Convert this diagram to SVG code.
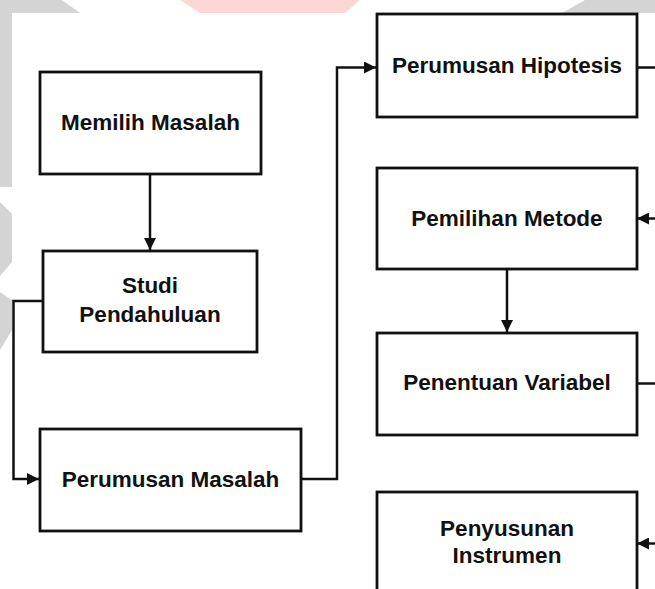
<svg xmlns="http://www.w3.org/2000/svg" width="655" height="589" viewBox="0 0 655 589">
  <defs>
    <style>
      .box { fill: #ffffff; stroke: #111111; stroke-width: 2.8; }
      .lbl { font-family: "Liberation Sans", Arial, sans-serif; font-weight: bold; font-size: 22.5px; fill: #111111; text-anchor: middle; }
      .conn { fill: none; stroke: #111111; stroke-width: 2.5; }
      .wm { fill: #d4d4d4; }
      .wmr { fill: #fdd6d6; }
    </style>
    <marker id="arr" markerUnits="userSpaceOnUse" markerWidth="13" markerHeight="12" refX="12" refY="6" orient="auto">
      <path d="M0,0 L12,6 L0,12 Z" fill="#111111"/>
    </marker>
  </defs>

  <g id="background">
    <rect x="0" y="0" width="655" height="589" fill="#ffffff"/>
    <polygon class="wm" points="0,0 62,0 80,13 12,13 12,187 0,187"/>
    <polygon class="wmr" points="180,0 360,0 345,13 200,13"/>
    <polygon class="wm" points="585,0 655,0 655,13 562,13"/>
    <polygon class="wm" points="0,202 12,214 12,262 0,276"/>
    <polygon class="wm" points="0,292 12,300 12,330 0,350"/>
  </g>

  <g id="connectors">
    <line class="conn" x1="150" y1="174" x2="150" y2="250" marker-end="url(#arr)"/>
    <polyline class="conn" points="43,301 13.5,301 13.5,479 39,479" marker-end="url(#arr)"/>
    <polyline class="conn" points="301,479 337,479 337,67.5 376,67.5" marker-end="url(#arr)"/>
    <line class="conn" x1="637" y1="67.5" x2="655" y2="67.5"/>
    <line class="conn" x1="655" y1="218.5" x2="637" y2="218.5" marker-end="url(#arr)"/>
    <line class="conn" x1="507" y1="269" x2="507" y2="332" marker-end="url(#arr)"/>
    <line class="conn" x1="637" y1="383.5" x2="655" y2="383.5"/>
    <line class="conn" x1="655" y1="543.5" x2="637" y2="543.5" marker-end="url(#arr)"/>
  </g>

  <g id="memilih-masalah">
    <rect class="box" x="40" y="72" width="221" height="102"/>
    <text class="lbl" x="150.5" y="130">Memilih Masalah</text>
  </g>
  <g id="studi-pendahuluan">
    <rect class="box" x="43" y="251" width="214" height="101"/>
    <text class="lbl" x="150" y="293">Studi</text>
    <text class="lbl" x="150" y="321.5">Pendahuluan</text>
  </g>
  <g id="perumusan-masalah">
    <rect class="box" x="40" y="429" width="261" height="102"/>
    <text class="lbl" x="170.5" y="487">Perumusan Masalah</text>
  </g>
  <g id="perumusan-hipotesis">
    <rect class="box" x="377" y="14" width="260" height="103"/>
    <text class="lbl" x="507" y="72.5">Perumusan Hipotesis</text>
  </g>
  <g id="pemilihan-metode">
    <rect class="box" x="377" y="168" width="260" height="101"/>
    <text class="lbl" x="507" y="225.5">Pemilihan Metode</text>
  </g>
  <g id="penentuan-variabel">
    <rect class="box" x="377" y="333" width="260" height="102"/>
    <text class="lbl" x="507" y="390">Penentuan Variabel</text>
  </g>
  <g id="penyusunan-instrumen">
    <rect class="box" x="377" y="492" width="260" height="110"/>
    <text class="lbl" x="507" y="536">Penyusunan</text>
    <text class="lbl" x="507" y="563">Instrumen</text>
  </g>
</svg>
